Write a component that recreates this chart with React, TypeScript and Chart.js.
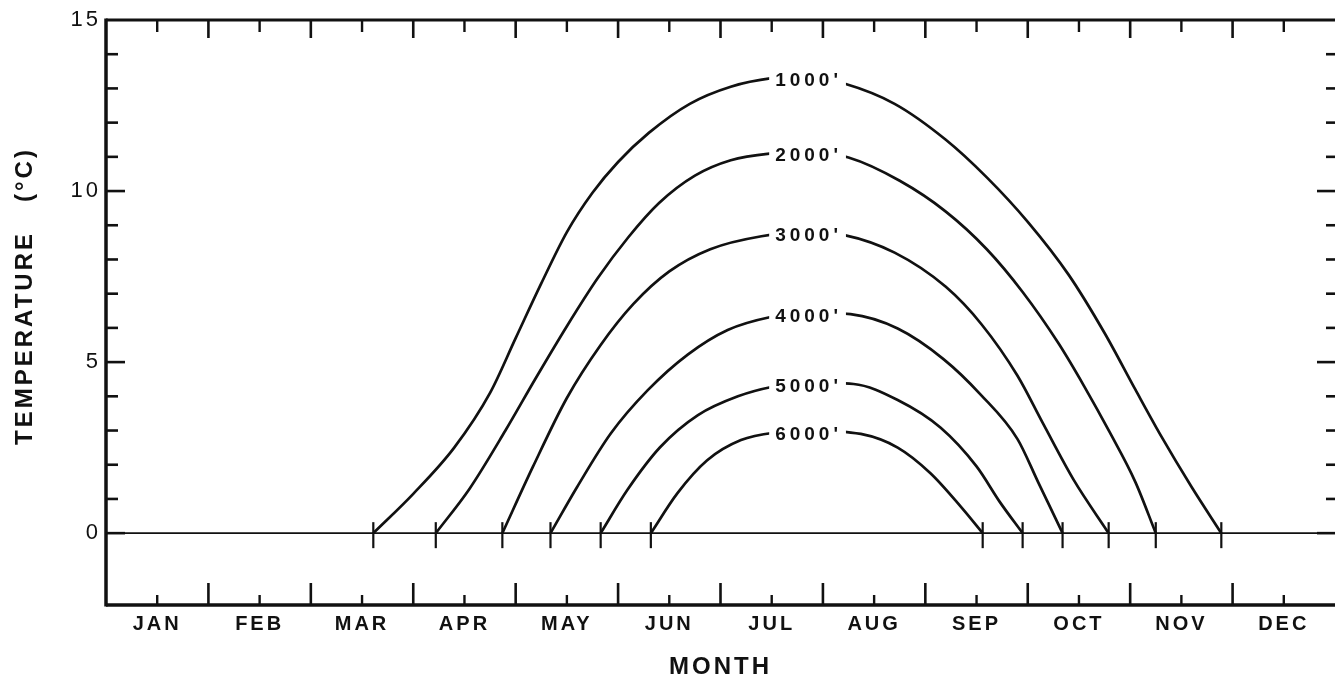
import React, { useEffect, useRef } from "react";
import { Chart, registerables } from "chart.js";

Chart.register(...registerables);

// ---- data ----
const months = ["JAN", "FEB", "MAR", "APR", "MAY", "JUN", "JUL", "AUG", "SEP", "OCT", "NOV", "DEC"];
const yTickValues = [0, 5, 10, 15];
const altitudeLabels = ["1000'", "2000'", "3000'", "4000'", "5000'", "6000'"];
const labelMonth = 6.85; // x position (months) where altitude labels sit on the curves

// [month (0 = start of JAN), temperature °C]
const curve1000 = [
  [2.61, 0], [3.0, 1.15], [3.4, 2.5], [3.75, 4.1], [4.0, 5.7], [4.25, 7.3], [4.5, 8.8],
  [4.75, 9.95], [5.0, 10.85], [5.3, 11.7], [5.7, 12.55], [6.1, 13.05], [6.5, 13.3], [6.85, 13.35],
  [7.2, 13.15], [7.7, 12.55], [8.2, 11.5], [8.6, 10.4], [9.0, 9.1], [9.4, 7.55], [9.75, 5.85],
  [10.05, 4.2], [10.3, 2.85], [10.6, 1.35], [10.89, 0],
];
const curve2000 = [
  [3.22, 0], [3.55, 1.3], [3.9, 3.0], [4.2, 4.55], [4.5, 6.05], [4.8, 7.45], [5.1, 8.65],
  [5.4, 9.65], [5.75, 10.45], [6.1, 10.9], [6.5, 11.1], [6.85, 11.15], [7.25, 10.98],
  [7.75, 10.3], [8.2, 9.4], [8.6, 8.3], [8.95, 7.05], [9.3, 5.55], [9.55, 4.3], [9.8, 2.95],
  [10.05, 1.5], [10.25, 0],
];
const curve3000 = [
  [3.87, 0], [4.17, 1.95], [4.5, 3.95], [4.83, 5.5], [5.15, 6.7], [5.5, 7.65], [5.9, 8.3],
  [6.4, 8.68], [6.85, 8.8], [7.2, 8.72], [7.7, 8.2], [8.2, 7.2], [8.55, 6.1], [8.9, 4.6],
  [9.15, 3.2], [9.45, 1.55], [9.79, 0],
];
const curve4000 = [
  [4.34, 0], [4.6, 1.35], [4.93, 2.92], [5.29, 4.18], [5.68, 5.22], [6.07, 5.94], [6.49, 6.32],
  [6.85, 6.45], [7.27, 6.4], [7.73, 5.98], [8.18, 5.08], [8.54, 4.05], [8.9, 2.75],
  [9.1, 1.5], [9.34, 0],
];
const curve5000 = [
  [4.83, 0], [5.09, 1.26], [5.41, 2.51], [5.78, 3.45], [6.17, 4.0], [6.51, 4.28], [6.85, 4.4],
  [7.3, 4.36], [7.73, 3.89], [8.15, 3.08], [8.5, 1.95], [8.73, 0.9], [8.95, 0],
];
const curve6000 = [
  [5.32, 0], [5.58, 1.17], [5.87, 2.13], [6.2, 2.72], [6.56, 2.95], [6.85, 3.0], [7.37, 2.9],
  [7.73, 2.5], [8.05, 1.75], [8.35, 0.76], [8.56, 0],
];
const curves = [curve1000, curve2000, curve3000, curve4000, curve5000, curve6000];

const FONT = "'Liberation Sans', Arial, Helvetica, sans-serif";
const INK = "#111";

const framePlugin = {
  id: "frame",
  beforeDraw(chart: any) {
    chart.ctx.letterSpacing = "3px";
  },
  afterDatasetsDraw(chart: any) {
    const { ctx, chartArea: a, scales } = chart;
    const xs = scales.x;
    const ys = scales.y;
    ctx.save();
    ctx.strokeStyle = INK;
    ctx.fillStyle = INK;
    ctx.lineCap = "butt";
    const seg = (x1: number, y1: number, x2: number, y2: number, w: number) => {
      ctx.lineWidth = w;
      ctx.beginPath();
      ctx.moveTo(x1, y1);
      ctx.lineTo(x2, y2);
      ctx.stroke();
    };
    const y0 = ys.getPixelForValue(0);
    // zero line
    seg(a.left, y0, a.right, y0, 1.6);
    // frame (no right border: cut off in the original)
    seg(a.left, a.top - 1.5, a.left, a.bottom + 1.5, 3.5);
    seg(a.left, a.top, a.right, a.top, 3);
    seg(a.left, a.bottom, a.right, a.bottom, 3.5);
    // y ticks, inward, left & right
    for (let v = 0; v < 15; v++) {
      const py = ys.getPixelForValue(v);
      const major = v % 5 === 0;
      seg(a.left, py, a.left + (major ? 19 : 12), py, 2.6);
      seg(a.right, py, a.right - (major ? 18 : 9), py, 2.6);
    }
    // x ticks, inward, top & bottom
    for (let m = 0; m < 12; m++) {
      const pc = xs.getPixelForValue(m + 0.5);
      seg(pc, a.top, pc, a.top + 12, 2.4);
      seg(pc, a.bottom, pc, a.bottom - 10, 2.4);
      if (m > 0) {
        const pb = xs.getPixelForValue(m);
        seg(pb, a.top, pb, a.top + 18, 2.6);
        seg(pb, a.bottom, pb, a.bottom - 22, 2.6);
      }
    }
    // crossing marks where each curve meets 0 °C
    chart.data.datasets.forEach((ds: any) => {
      const pts = ds.data;
      [pts[0], pts[pts.length - 1]].forEach((p: any) => {
        const px = xs.getPixelForValue(p.x);
        seg(px, y0 - 11, px, y0 + 15, 2.2);
      });
    });
    // altitude labels on the curves
    ctx.font = `bold 19px ${FONT}`;
    ctx.letterSpacing = "4px";
    ctx.textAlign = "center";
    ctx.textBaseline = "middle";
    chart.data.datasets.forEach((ds: any) => {
      const p = ds.data.find((d: any) => d.x === labelMonth);
      if (!p) return;
      const px = xs.getPixelForValue(p.x);
      const py = ys.getPixelForValue(p.y);
      const w = ctx.measureText(ds.label).width;
      ctx.fillStyle = "#fff";
      ctx.fillRect(px - w / 2 - 5, py - 9, w + 10, 22);
      ctx.fillStyle = INK;
      ctx.fillText(ds.label, px + 1, py + 4);
    });
    // axis titles
    ctx.font = `bold 24px ${FONT}`;
    ctx.letterSpacing = "3px";
    ctx.fillText("MONTH", (a.left + a.right) / 2, 667);
    ctx.translate(25, 296);
    ctx.rotate(-Math.PI / 2);
    ctx.fillText("TEMPERATURE   (°C)", 0, 0);
    ctx.restore();
  },
  afterDraw(chart: any) {
    chart.ctx.letterSpacing = "0px";
  },
};

export default function App() {
  const ref = useRef<HTMLCanvasElement>(null);
  useEffect(() => {
    if (!ref.current) return;
    const chart = new Chart(ref.current, {
      type: "line",
      data: {
        datasets: curves.map((c, i) => ({
          label: altitudeLabels[i],
          data: c.map(([x, y]) => ({ x, y })),
          borderColor: INK,
          borderWidth: 2.7,
          pointRadius: 0,
          fill: false,
          cubicInterpolationMode: "monotone" as const,
        })),
      },
      options: {
        animation: false,
        responsive: false,
        devicePixelRatio: 1,
        layout: { padding: { top: 20, right: 0, left: 0, bottom: 0 } },
        plugins: { legend: { display: false }, tooltip: { enabled: false } },
        scales: {
          x: {
            type: "linear",
            min: 0,
            max: 12,
            grid: { display: false, drawTicks: false },
            border: { display: false },
            afterBuildTicks: (s: any) => {
              s.ticks = months.map((_, i) => ({ value: i + 0.5 }));
            },
            afterFit: (s: any) => {
              s.height = 73;
            },
            ticks: {
              autoSkip: false,
              maxRotation: 0,
              padding: 7,
              color: INK,
              font: { family: FONT, size: 20, weight: "bold" },
              callback: (v: any) => months[Math.round(Number(v) - 0.5)] ?? "",
            },
          },
          y: {
            type: "linear",
            min: -2.1,
            max: 15,
            grid: { display: false, drawTicks: false },
            border: { display: false },
            afterBuildTicks: (s: any) => {
              s.ticks = yTickValues.map((v) => ({ value: v }));
            },
            afterFit: (s: any) => {
              s.width = 106;
            },
            ticks: {
              padding: 5,
              color: INK,
              font: { family: FONT, size: 22 },
              callback: (v: any) => String(v),
            },
          },
        },
      },
      plugins: [framePlugin],
    } as any);
    return () => chart.destroy();
  }, []);
  return (
    <div style={{ position: "absolute", left: 0, top: 0, width: 1335, height: 678, background: "#fff" }}>
      <canvas ref={ref} width={1335} height={678} style={{ display: "block" }} />
    </div>
  );
}
